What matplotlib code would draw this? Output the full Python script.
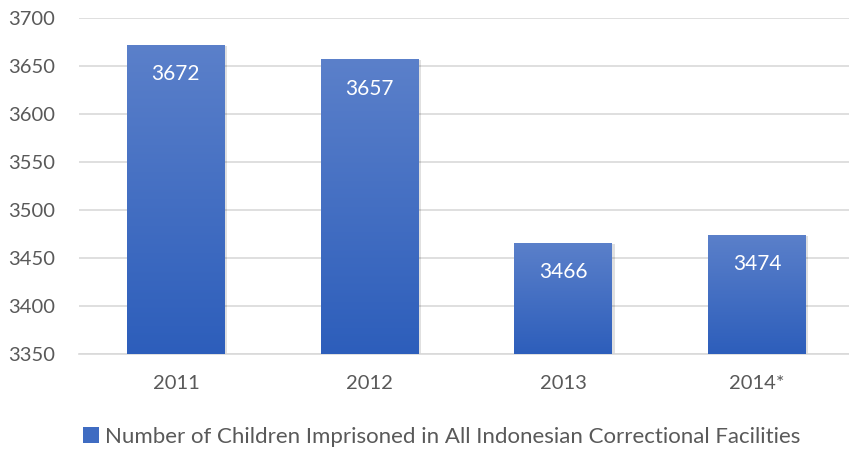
import numpy as np
import matplotlib
matplotlib.use("Agg")
import matplotlib.pyplot as plt
from matplotlib.colors import LinearSegmentedColormap
from matplotlib.patches import Patch

plt.rcParams['font.family'] = ['Lato', 'DejaVu Sans']

years = ['2011', '2012', '2013', '2014*']
children = [3672, 3657, 3466, 3474]
series_name = 'Number of Children Imprisoned in All Indonesian Correctional Facilities'

fig = plt.figure(figsize=(8.49, 4.51), dpi=100)
ax = fig.add_axes([79 / 849, 97 / 451, 775 / 849, 336 / 451])

x = np.arange(len(years))
ybase = 3350
bars = ax.bar(x, np.array(children) - ybase, bottom=ybase, width=0.505,
              color='none', edgecolor='none', zorder=3)

# 渐变色：上浅下深
cmap = LinearSegmentedColormap.from_list('bl', ['#2D5EBB', '#5B80CA'])
grad = np.linspace(0, 1, 256).reshape(-1, 1)
for b, v in zip(bars, children):
    x0, y0 = b.get_x(), b.get_y()
    w, h = b.get_width(), b.get_height()
    # 阴影
    ax.bar(x0 + w / 2 + 0.006, h, bottom=y0 - 1.2, width=w + 0.012,
           color='#000000', alpha=0.12, zorder=2)
    im = ax.imshow(grad, cmap=cmap, origin='lower', aspect='auto',
                   extent=(x0, x0 + w, y0, y0 + h), zorder=3)
    im.set_clip_path(b)
    ax.annotate(str(v), (x0 + w / 2, v), xytext=(0, -14), textcoords='offset points',
                ha='center', va='top', color='white', fontsize=15, zorder=4)

ax.set_xlim(-0.5, len(years) - 0.5)
ax.set_ylim(3350, 3700)
ax.set_yticks(np.arange(3350, 3701, 50))
ax.set_xticks(x)
ax.set_xticklabels(years)
ax.yaxis.grid(True, color='#D9D9D9', linewidth=1.2, zorder=0)
ax.set_axisbelow(True)
for s in ['top', 'right', 'left']:
    ax.spines[s].set_visible(False)
ax.spines['bottom'].set_color('#D9D9D9')
ax.spines['bottom'].set_linewidth(1.2)
ax.tick_params(axis='both', length=0, labelsize=14.5, labelcolor='#595959')
ax.tick_params(axis='x', pad=15)
ax.tick_params(axis='y', pad=17)

handle = Patch(facecolor='#3F6CC2', edgecolor='none')
fig.legend([handle], [series_name], loc='center', bbox_to_anchor=(442 / 849, 1 - 437 / 451),
           frameon=False, fontsize=16, labelcolor='#595959', handlelength=0.7,
           handleheight=0.7, handletextpad=0.3)

fig.savefig('out.png', dpi=100)
